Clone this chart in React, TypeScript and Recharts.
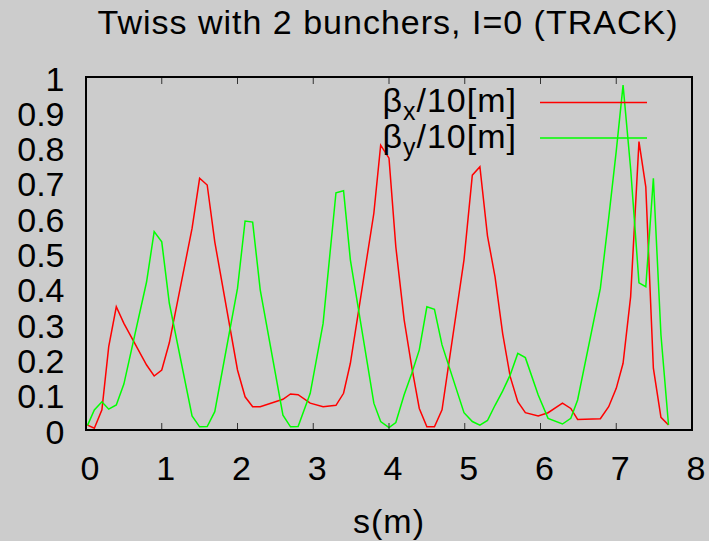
import React from 'react';
import { LineChart, Line, XAxis, YAxis, Legend } from 'recharts';

const FONT = '"Liberation Sans", Arial, Helvetica, sans-serif';

const title = 'Twiss with 2 bunchers, I=0 (TRACK)';
const xLabel = 's(m)';

const sValues = [
  0.02, 0.11, 0.21, 0.3, 0.4, 0.5, 0.8, 0.9, 1.0, 1.1, 1.4, 1.5, 1.6, 1.7, 2.0, 2.1, 2.2, 2.3,
  2.6, 2.7, 2.8, 2.96, 3.13, 3.3, 3.4, 3.49, 3.8, 3.89, 4.0, 4.09, 4.2, 4.3, 4.4, 4.5, 4.6,
  4.7, 4.99, 5.1, 5.2, 5.3, 5.4, 5.5, 5.6, 5.7, 5.8, 5.97, 6.1, 6.29, 6.4, 6.49, 6.79, 6.9,
  7.0, 7.09, 7.19, 7.3, 7.39, 7.49, 7.59, 7.69,
];

const betaXOver10 = [
  0.014, 0.005, 0.057, 0.236, 0.349, 0.302, 0.184, 0.153, 0.17, 0.247, 0.571, 0.713, 0.694, 0.533,
  0.17, 0.094, 0.066, 0.066, 0.087, 0.102, 0.1, 0.076, 0.066, 0.07, 0.104, 0.189, 0.614, 0.807,
  0.77, 0.519, 0.312, 0.179, 0.061, 0.009, 0.009, 0.057, 0.482, 0.722, 0.746, 0.55, 0.434,
  0.274, 0.151, 0.08, 0.049, 0.04, 0.049, 0.076, 0.061, 0.03, 0.032, 0.066, 0.118, 0.189,
  0.378, 0.817, 0.689, 0.175, 0.036, 0.014,
];

const betaYOver10 = [
  0.013, 0.057, 0.08, 0.059, 0.071, 0.13, 0.42, 0.562, 0.533, 0.359, 0.04, 0.009, 0.01, 0.052,
  0.401, 0.592, 0.589, 0.397, 0.042, 0.009, 0.01, 0.104, 0.302, 0.672, 0.678, 0.482, 0.076,
  0.024, 0.007, 0.021, 0.1, 0.16, 0.227, 0.349, 0.342, 0.241, 0.049, 0.024, 0.014, 0.027, 0.07,
  0.11, 0.156, 0.217, 0.205, 0.099, 0.033, 0.017, 0.033, 0.085, 0.401, 0.6, 0.79, 0.977, 0.74,
  0.417, 0.406, 0.713, 0.27, 0.014,
];

const xTicks = [0, 1, 2, 3, 4, 5, 6, 7, 8];
const yTicks = [0, 0.1, 0.2, 0.3, 0.4, 0.5, 0.6, 0.7, 0.8, 0.9, 1];
const xDomain = [0, 8];
const yDomain = [0, 1];

const seriesKeys = ['bx', 'by'];
const seriesColors = ['#ff0000', '#00ff00'];
const legendParts = [
  { base: 'β', sub: 'x', rest: '/10[m]' },
  { base: 'β', sub: 'y', rest: '/10[m]' },
];

const data = sValues.map((s, i) => ({ s, bx: betaXOver10[i], by: betaYOver10[i] }));

const tickLineStyle = { stroke: '#333', strokeWidth: 1 };
const noLabel = () => '';

const renderLegend = (props: any) => {
  const payload = props.payload || [];
  return (
    <svg width={330} height={110} style={{ display: 'block', overflow: 'visible' }}>
      {payload.map((entry: any, idx: number) => {
        let i = seriesKeys.indexOf(entry.dataKey);
        if (i < 0) i = idx;
        const part = legendParts[i];
        const baseY = 42 + i * 35.6;
        return (
          <g key={i}>
            <text
              x={177}
              y={baseY}
              textAnchor="end"
              fontSize={34}
              fontFamily={FONT}
              fill="#000"
              letterSpacing={1}
            >
              {part.base}
              <tspan dy={8} fontSize={25}>{part.sub}</tspan>
              <tspan dy={-8} fontSize={34}>{part.rest}</tspan>
            </text>
            <line
              x1={200}
              x2={307}
              y1={baseY - 9.5}
              y2={baseY - 9.5}
              stroke={entry.color || seriesColors[i]}
              strokeWidth={1.5}
            />
          </g>
        );
      })}
    </svg>
  );
};

export default function App() {
  return (
    <div
      style={{
        position: 'absolute',
        left: 0,
        top: 0,
        width: 709,
        height: 541,
        background: '#cccccc',
        overflow: 'hidden',
      }}
    >
      <div
        style={{
          position: 'absolute',
          left: 388,
          top: 5,
          transform: 'translateX(-50%)',
          whiteSpace: 'nowrap',
          fontFamily: FONT,
          fontSize: 34,
          lineHeight: '34px',
          letterSpacing: 1,
          color: '#000',
        }}
      >
        {title}
      </div>
      <LineChart
        width={709}
        height={541}
        data={data}
        margin={{ top: 77, right: 17, bottom: 0, left: 0 }}
      >
        <XAxis
          xAxisId="b"
          type="number"
          dataKey="s"
          domain={xDomain}
          ticks={xTicks}
          interval={0}
          orientation="bottom"
          height={111}
          axisLine={false}
          tickLine={false}
          tickSize={0}
          tickMargin={26}
          tick={{ fontSize: 34, fill: '#000', fontFamily: FONT, dx: 4 }}
          label={{
            value: xLabel,
            position: 'insideBottom',
            offset: 8,
            fontSize: 34,
            fill: '#000',
            fontFamily: FONT,
            letterSpacing: 1,
          }}
        />
        <XAxis
          xAxisId="bm"
          type="number"
          dataKey="s"
          domain={xDomain}
          ticks={xTicks}
          interval={0}
          orientation="bottom"
          mirror
          tickFormatter={noLabel}
          tickSize={7}
          stroke="#000"
          strokeWidth={2}
          tickLine={tickLineStyle}
        />
        <XAxis
          xAxisId="t"
          type="number"
          dataKey="s"
          domain={xDomain}
          ticks={xTicks}
          interval={0}
          orientation="top"
          mirror
          tickFormatter={noLabel}
          tickSize={7}
          stroke="#000"
          strokeWidth={2}
          tickLine={tickLineStyle}
        />
        <YAxis
          yAxisId="l"
          type="number"
          domain={yDomain}
          ticks={yTicks}
          interval={0}
          width={86}
          axisLine={false}
          tickLine={false}
          tickSize={0}
          tickMargin={21.5}
          tickFormatter={(v: number) => String(v)}
          tick={{ fontSize: 34, fill: '#000', fontFamily: FONT, dy: 1.5 }}
        />
        <YAxis
          yAxisId="lm"
          type="number"
          orientation="left"
          domain={yDomain}
          ticks={yTicks}
          interval={0}
          mirror
          tickFormatter={noLabel}
          tickSize={7}
          stroke="#000"
          strokeWidth={2}
          tickLine={tickLineStyle}
        />
        <YAxis
          yAxisId="r"
          type="number"
          orientation="right"
          domain={yDomain}
          ticks={yTicks}
          interval={0}
          mirror
          tickFormatter={noLabel}
          tickSize={7}
          stroke="#000"
          strokeWidth={2}
          tickLine={tickLineStyle}
        />
        <Legend
          layout="horizontal"
          verticalAlign="middle"
          align="center"
          content={renderLegend}
          wrapperStyle={{ position: 'absolute', left: 340, top: 70, width: 330, height: 110 }}
        />
        <Line
          xAxisId="b"
          yAxisId="l"
          type="linear"
          dataKey="bx"
          name="bx"
          stroke={seriesColors[0]}
          strokeWidth={1.5}
          dot={false}
          isAnimationActive={false}
        />
        <Line
          xAxisId="b"
          yAxisId="l"
          type="linear"
          dataKey="by"
          name="by"
          stroke={seriesColors[1]}
          strokeWidth={1.5}
          dot={false}
          isAnimationActive={false}
        />
      </LineChart>
      {/* plot frame */}
      <div
        style={{
          position: 'absolute',
          left: 85,
          top: 76,
          width: 608,
          height: 355,
          boxSizing: 'border-box',
          border: '2px solid #000',
          pointerEvents: 'none',
        }}
      />
    </div>
  );
}
